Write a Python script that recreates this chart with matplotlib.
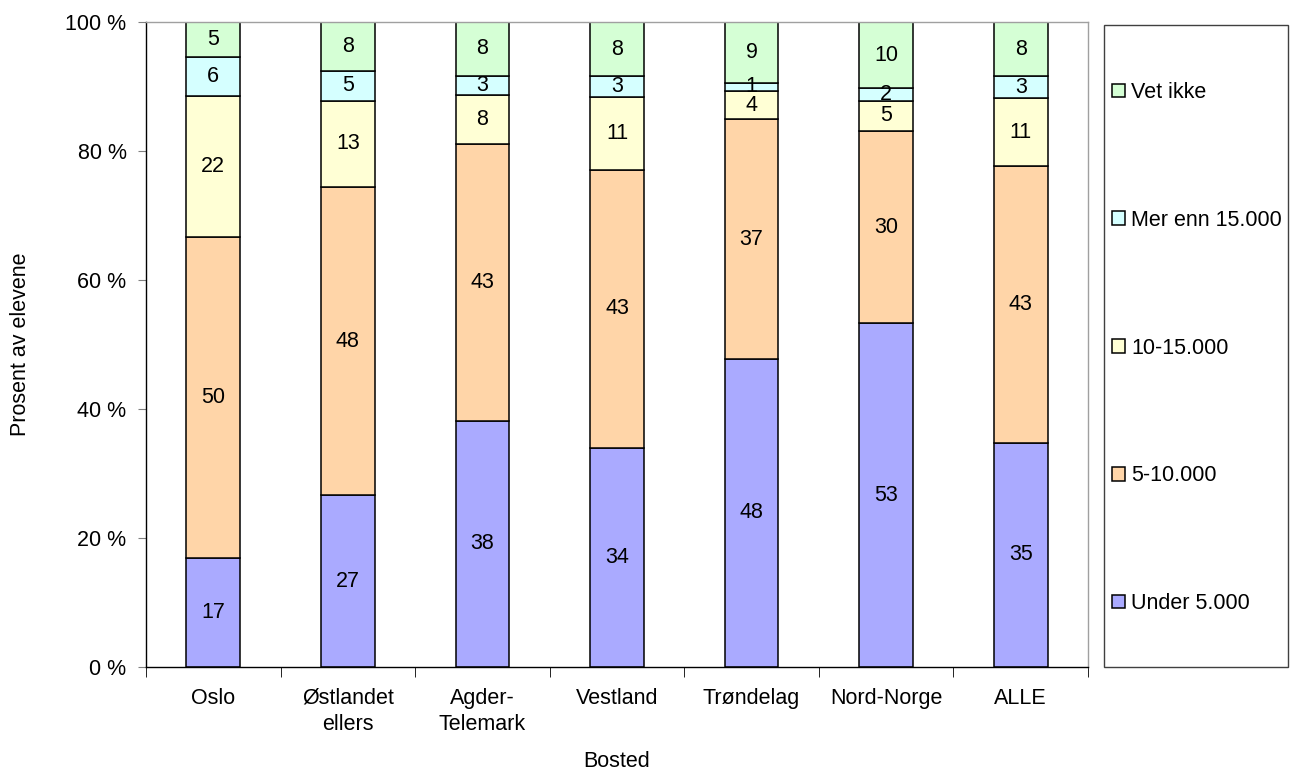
import numpy as np
import matplotlib
matplotlib.use("Agg")
import matplotlib.pyplot as plt
import matplotlib.patches as mpatches

plt.rcParams['font.family'] = ['Liberation Sans', 'DejaVu Sans']

regions = ["Oslo", "Østlandet\nellers", "Agder-\nTelemark", "Vestland",
           "Trøndelag", "Nord-Norge", "ALLE"]
series = ["Under 5.000", "5-10.000", "10-15.000", "Mer enn 15.000", "Vet ikke"]

under_5 = [16.9, 26.6, 38.2, 34.0, 47.8, 53.3, 34.8]
from_5_10 = [49.8, 47.8, 42.9, 43.1, 37.1, 29.8, 42.8]
from_10_15 = [21.8, 13.4, 7.6, 11.3, 4.4, 4.7, 10.6]
over_15 = [6.1, 4.6, 3.0, 3.2, 1.3, 1.9, 3.4]
vet_ikke = [5.4, 7.6, 8.3, 8.4, 9.4, 10.3, 8.4]

colors = ['#AAAAFF', '#FFD5A8', '#FFFFD5', '#D5FFFF', '#D5FFD5']

data = [under_5, from_5_10, from_10_15, over_15, vet_ikke]
FS = 15.5

fig = plt.figure(figsize=(12.92, 7.71), dpi=100)
ax = fig.add_axes([146 / 1292, 1 - 667 / 771, (1088 - 146) / 1292, (667 - 22) / 771])

x = np.arange(len(regions))
bottom = np.zeros(len(regions))
handles = []
for vals, col, name in zip(data, colors, series):
    vals = np.array(vals)
    bars = ax.bar(x, vals, width=0.4, bottom=bottom, color=col,
                  edgecolor='black', linewidth=1.1, label=name)
    ax.bar_label(bars, labels=[f"{v:.0f}" for v in vals], label_type='center', fontsize=FS)
    bottom += vals
    handles.append(mpatches.Patch(facecolor=col, edgecolor='black', linewidth=1.1, label=name))

ax.set_xlim(-0.5, len(regions) - 0.5)
ax.set_ylim(0, 100)
ax.set_yticks(np.arange(0, 101, 20))
ax.set_yticklabels([f"{v} %" for v in range(0, 101, 20)], fontsize=FS)
ax.tick_params(axis='y', length=6, color='#808080', pad=8)

ax.set_xticks(x)
ax.set_xticklabels(regions, fontsize=FS, linespacing=1.3)
ax.set_xticks(np.arange(-0.5, len(regions), 1), minor=True)
ax.tick_params(axis='x', which='major', length=0, pad=15)
ax.tick_params(axis='x', which='minor', length=7, color='black')

ax.spines['left'].set_color('black')
ax.spines['bottom'].set_color('black')
ax.spines['top'].set_color('#A0A0A0')
ax.spines['right'].set_color('#A0A0A0')
for s in ax.spines.values():
    s.set_linewidth(1.0)

ax.set_ylabel("Prosent av elevene", fontsize=FS)
ax.yaxis.set_label_coords(-0.122, 0.5)
ax.set_xlabel("Bosted", fontsize=FS)
ax.xaxis.set_label_coords(0.5, -0.131)

# legend frame drawn separately so it can be taller than the entries
frame = mpatches.Rectangle((1104 / 1292, 1 - 667 / 771), (1288 - 1104) / 1292, (667 - 25) / 771,
                           transform=fig.transFigure, facecolor='white', edgecolor='#404040',
                           linewidth=1.0)
fig.patches.append(frame)

fig.legend(handles=handles[::-1], loc='upper left', bbox_to_anchor=(1112 / 1292, 1 - 82 / 771),
           frameon=False, fontsize=FS, handlelength=0.6, handleheight=0.6,
           handletextpad=0.3, labelspacing=4.96, borderpad=0, borderaxespad=0)

fig.savefig("out.png", dpi=100)
